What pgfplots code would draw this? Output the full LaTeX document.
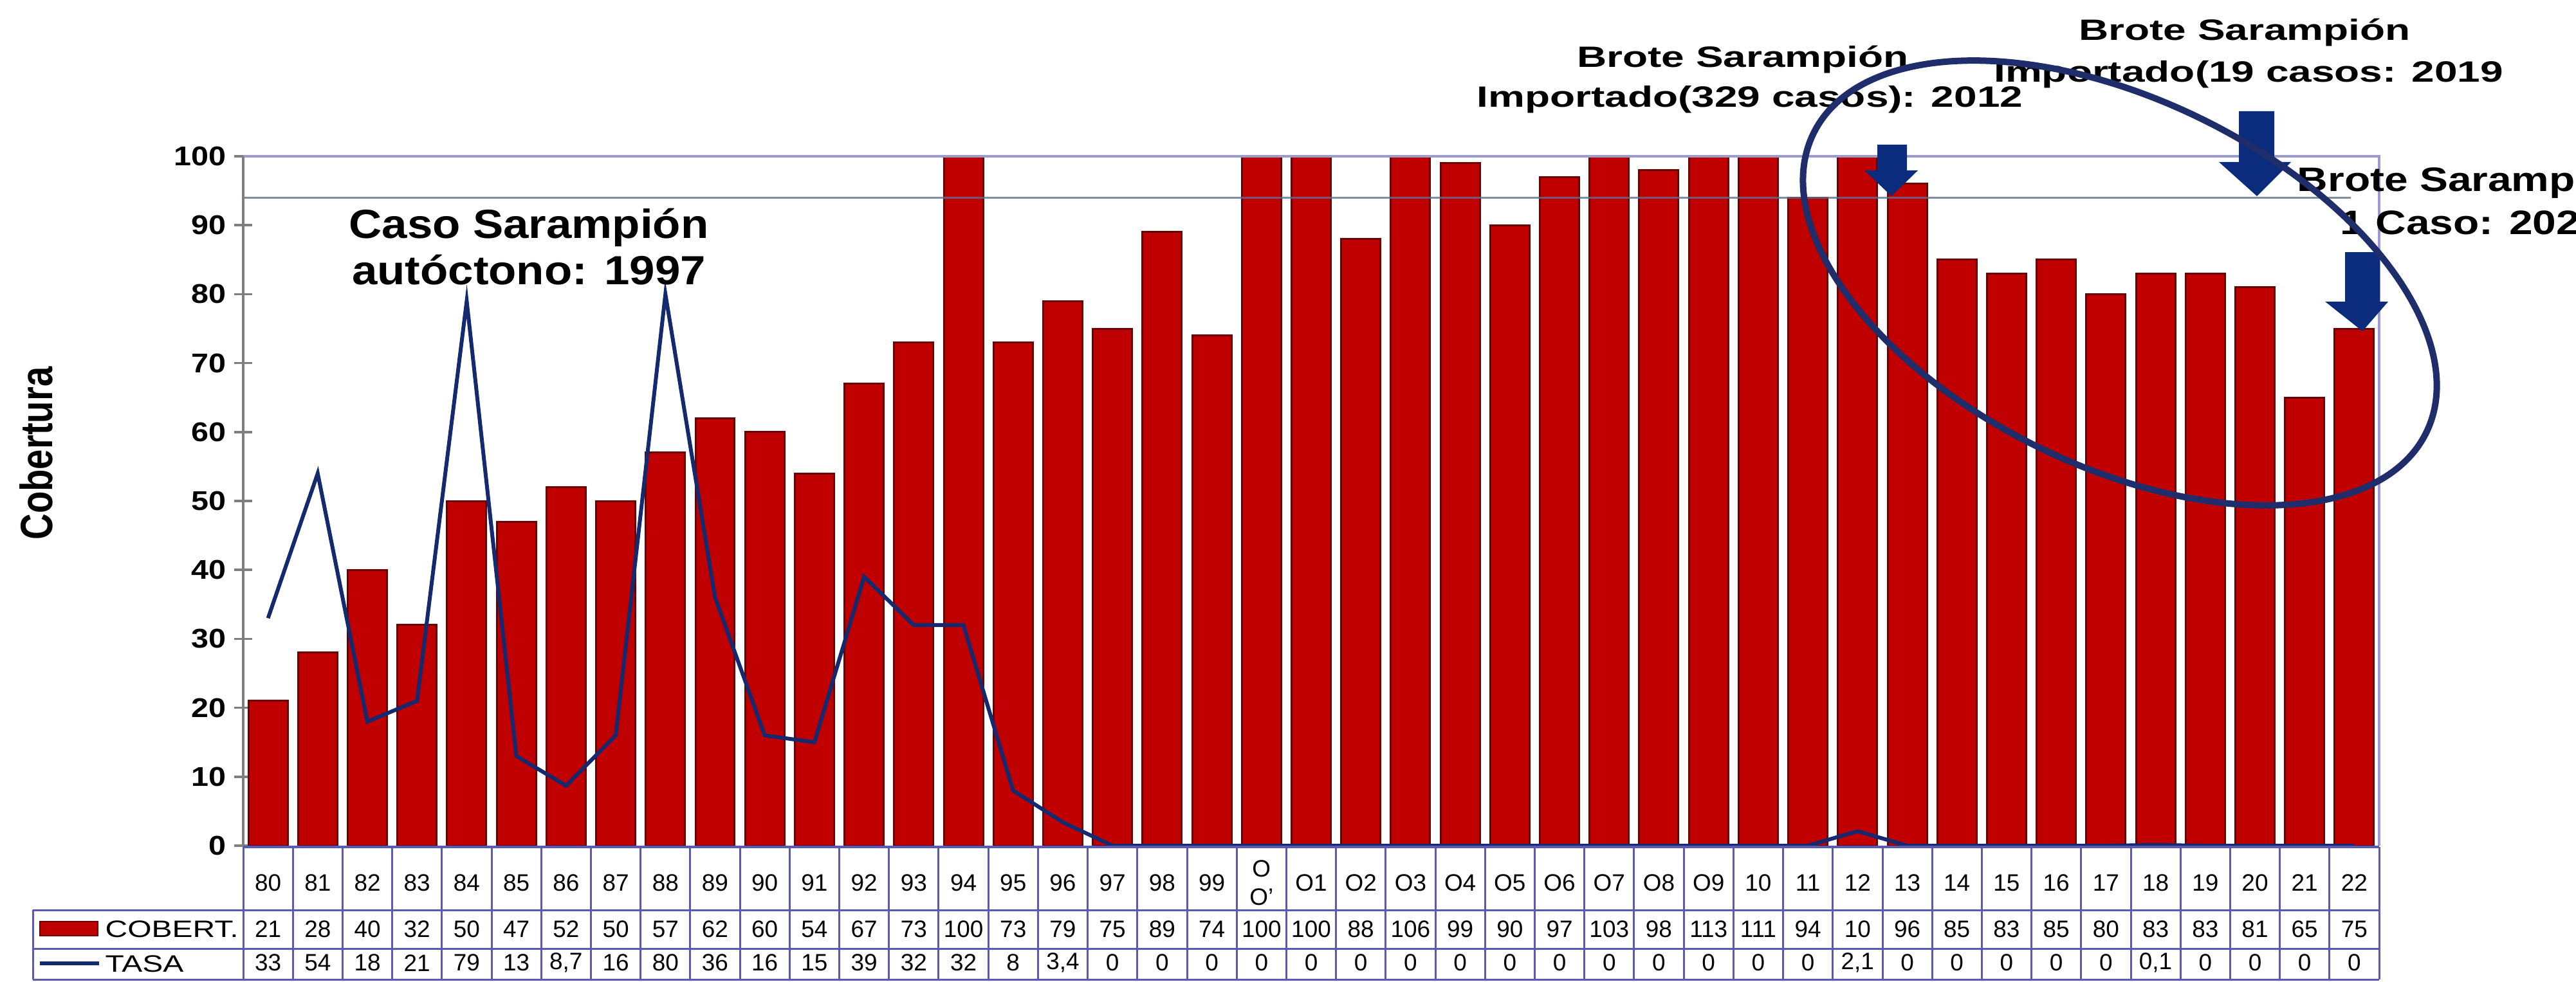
\documentclass[border=0pt]{standalone}
\usepackage{fontspec}
\setmainfont{Liberation Sans}
\usepackage{graphicx}
\usepackage{pgfplots}
\usepackage{pgfplotstable}
\pgfplotsset{compat=1.18}

\definecolor{barred}{HTML}{C00000}
\definecolor{bardark}{HTML}{6B0000}
\definecolor{navyline}{HTML}{152A6E}
\definecolor{arrowblue}{HTML}{0B2C7C}
\definecolor{ellcol}{HTML}{1F2D6B}
\definecolor{tableblue}{HTML}{5A5AB4}
\definecolor{lav}{HTML}{9B9BD2}
\definecolor{lineNN}{HTML}{5F6F8F}
\definecolor{axisgray}{HTML}{7F7F7F}

\pgfplotstableread{
idx bar cobt tasa tasat
0 21 21 33 33
1 28 28 54 54
2 40 40 18 18
3 32 32 21 21
4 50 50 79 79
5 47 47 13 13
6 52 52 8.7 8,7
7 50 50 16 16
8 57 57 80 80
9 62 62 36 36
10 60 60 16 16
11 54 54 15 15
12 67 67 39 39
13 73 73 32 32
14 100 100 32 32
15 73 73 8 8
16 79 79 3.4 3,4
17 75 75 0 0
18 89 89 0 0
19 74 74 0 0
20 100 100 0 0
21 100 100 0 0
22 88 88 0 0
23 100 106 0 0
24 99 99 0 0
25 90 90 0 0
26 97 97 0 0
27 100 103 0 0
28 98 98 0 0
29 100 113 0 0
30 100 111 0 0
31 94 94 0 0
32 100 10 2.1 2,1
33 96 96 0 0
34 85 85 0 0
35 83 83 0 0
36 85 85 0 0
37 80 80 0 0
38 83 83 0.1 0,1
39 83 83 0 0
40 81 81 0 0
41 65 65 0 0
42 75 75 0 0
}\datatab

\newcommand{\tabfont}{\fontsize{10.5}{12.5}\selectfont}
\newcommand{\tickfont}{\bfseries\fontsize{12}{14}\selectfont}
\newcommand{\annfont}{\bfseries\fontsize{18}{21}\selectfont}
\newcommand{\brfont}{\bfseries\fontsize{13}{15.5}\selectfont}
\newcommand{\brbfont}{\bfseries\fontsize{15}{18}\selectfont}

\begin{document}
\begin{tikzpicture}
\useasboundingbox (0,0) rectangle (400.4mm,152.6mm);
\clip (0,0) rectangle (400.4mm,152.6mm);
\begin{axis}[
  at={(37.8mm,21.1mm)}, anchor=south west,
  scale only axis, width=332mm, height=107.2mm,
  xmin=-0.5, xmax=42.5, ymin=0, ymax=100,
  clip=false,
  axis line style={draw=none},
  ytick={0,10,...,100},
  ytick pos=left, ytick align=center,
  major tick length=2.8mm,
  ytick style={draw=axisgray, line width=0.35mm},
  yticklabel={\scalebox{1.15}[1]{\pgfmathprintnumber{\tick}}},
  yticklabel style={font=\tickfont},
  /pgf/number format/assume math mode=true,
  xtick={0,...,42},
  xtick style={draw=none},
  xticklabels={80,81,82,83,84,85,86,87,88,89,90,91,92,93,94,95,96,97,98,99,{O\\O'},O1,O2,O3,O4,O5,O6,O7,O8,O9,10,11,12,13,14,15,16,17,18,19,20,21,22},
  xticklabel style={font=\tabfont, align=center, anchor=center, yshift=-5.8mm},
]
\addplot[ybar, bar width=0.79, fill=barred, draw=bardark, line width=0.3mm] table[x=idx, y=bar] {\datatab};
\draw[lineNN, line width=0.35mm, opacity=0.8] (axis cs:-0.5,94) -- (axis cs:41.93,94);
\draw[lav, line width=0.4mm] (axis cs:-0.5,100) -- (axis cs:42.5,100) -- (axis cs:42.5,0);
\draw[axisgray, line width=0.45mm] (axis cs:-0.5,0) -- (axis cs:-0.5,100);
\addplot[navyline, line width=0.6mm, mark=none] table[x=idx, y=tasa] {\datatab};
\addplot[draw=none, mark=none, nodes near coords, point meta=explicit symbolic,
  every node near coord/.append style={anchor=center, font=\tabfont, text=black, inner sep=0pt}]
  table[x=idx, y expr=-12.13, meta=cobt] {\datatab};
\addplot[draw=none, mark=none, nodes near coords, point meta=explicit symbolic,
  every node near coord/.append style={anchor=center, font=\tabfont, text=black, inner sep=0pt}]
  table[x=idx, y expr=-17.0, meta=tasat] {\datatab};
\end{axis}

\begin{scope}[x=0.1mm, y=-0.1mm, shift={(0,152.6mm)}]
  % table grid
  \foreach \k in {0,...,43} {
    \draw[tableblue, line width=0.3mm] ({378+77.21*\k},1317) -- ({378+77.21*\k},1523);
  }
  \draw[tableblue, line width=0.35mm] (378,1317) -- (3698,1317);
  \draw[tableblue, line width=0.3mm] (51,1415) -- (3698,1415);
  \draw[tableblue, line width=0.3mm] (51,1475) -- (3698,1475);
  \draw[tableblue, line width=0.3mm] (51,1523) -- (3698,1523);
  \draw[tableblue, line width=0.3mm] (51,1415) -- (51,1523);
  % legend cells
  \fill[barred, draw=bardark, line width=0.25mm] (62,1433) rectangle (152,1455);
  \draw[navyline, line width=0.6mm] (62,1498) -- (154,1498);
  \node[anchor=west, font=\tabfont, inner sep=0pt] at (163,1445) {\scalebox{1.3}[1]{COBERT.}};
  \node[anchor=west, font=\tabfont, inner sep=0pt] at (163,1499) {\scalebox{1.3}[1]{TASA}};
  % y label
  \node[rotate=90, font=\bfseries\fontsize{20}{24}\selectfont] at (56,705) {\scalebox{0.8}[1]{Cobertura}};
  % annotations
  \node[anchor=base, font=\annfont, inner sep=0pt] at (822,370) {\scalebox{1.12}[1]{Caso Sarampión}};
  \node[anchor=base, font=\annfont, inner sep=0pt] at (822,442) {\scalebox{1.12}[1]{autóctono: 1997}};
  \node[anchor=base, font=\brfont, inner sep=0pt] at (2709,105) {\scalebox{1.4}[1]{Brote Sarampión}};
  \node[anchor=base, font=\brfont, inner sep=0pt] at (2720,167) {\scalebox{1.4}[1]{Importado(329 casos): 2012}};
  \node[anchor=base, font=\brfont, inner sep=0pt] at (3489,63) {\scalebox{1.4}[1]{Brote Sarampión}};
  \node[anchor=base, font=\brfont, inner sep=0pt] at (3495,128) {\scalebox{1.4}[1]{Importado(19 casos: 2019}};
  \node[anchor=base west, font=\brbfont, inner sep=0pt] at (3570,298) {\scalebox{1.25}[1]{Brote Sarampión}};
  \node[anchor=base west, font=\brbfont, inner sep=0pt] at (3637,364) {\scalebox{1.25}[1]{1 Caso: 2022}};
  % arrows
  \fill[arrowblue] (2918,225) -- (2964,225) -- (2964,265) -- (2981,265) -- (2940,305) -- (2898,265) -- (2918,265) -- cycle;
  \fill[arrowblue] (3480,173) -- (3535,173) -- (3535,252) -- (3561,252) -- (3508,305) -- (3449,252) -- (3480,252) -- cycle;
  \fill[arrowblue] (3645,392) -- (3699,392) -- (3699,469) -- (3712,469) -- (3672,515) -- (3614,469) -- (3645,469) -- cycle;
\end{scope}
\draw[ellcol, line width=1mm, rotate around={-26:(329.5mm,108.6mm)}] (329.5mm,108.6mm) ellipse (53mm and 28.5mm);
\end{tikzpicture}
\end{document}
